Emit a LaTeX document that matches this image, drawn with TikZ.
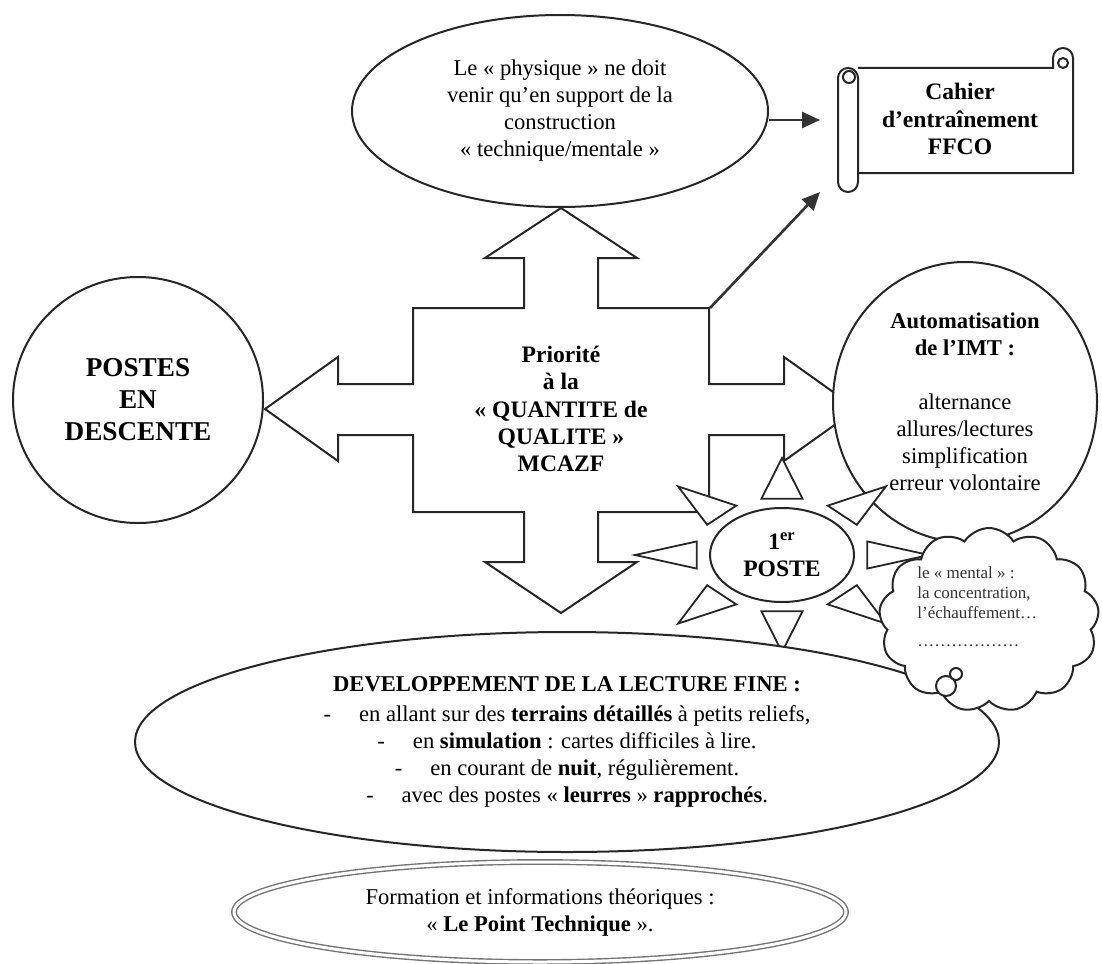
\documentclass[tikz,border=0pt]{standalone}
\usepackage{fontspec}
\setmainfont{Liberation Serif}
\usetikzlibrary{shapes.geometric,shapes.symbols,arrows.meta}

\newcommand{\txtnormal}{\fontsize{11.3}{13.5}\selectfont}
\newcommand{\txtgras}{\fontsize{11.8}{13.6}\selectfont\bfseries}
\newcommand{\txtgrand}{\fontsize{13.6}{16}\selectfont\bfseries}
\newcommand{\txtpetit}{\fontsize{8.5}{10}\selectfont}

\begin{document}
\begin{tikzpicture}[x=0.5pt, y=-0.5pt]
  % Styles
  \tikzstyle{forme}=[draw=black!85, line width=1pt, fill=white]
  \tikzstyle{bulle}=[forme, ellipse, inner sep=0pt, align=center, font=\txtnormal]
  \tikzstyle{rayon}=[forme, line width=0.9pt, line join=miter]
  \tikzstyle{fleche}=[-{Triangle[length=9pt, width=8pt]}, line width=1.3pt, black!80]

  \useasboundingbox (0,0) rectangle (1102,963);

  % Top ellipse
  \node[bulle, minimum width=208pt, minimum height=96pt] (physique) at (560,111)
    {Le « physique » ne doit\\venir qu’en support de la\\construction\\« technique/mentale »};

  % Scroll
  \draw[forme, fill=none] (858,68) -- (1053,68) -- (1053,58) arc[start angle=180, end angle=360, radius=10] -- (1073,173) -- (858,173);
  \draw[forme] (1063,63) circle[radius=5];
  \draw[forme, rounded corners=5pt] (838,68) rectangle (858,192);
  \draw[forme] (849,77) circle[radius=6];
  \node[font=\txtgras, align=center] (cahier) at (960,119) {Cahier\\d’entraînement\\FFCO};

  % Cross arrow
  \draw[forme, line join=miter] (413,308) -- (524,308) -- (524,258) -- (485,258) -- (561,208)
    -- (637,258) -- (598,258) -- (598,308) -- (709,308) -- (709,384) -- (784,384) -- (784,357)
    -- (857,409) -- (784,461) -- (784,435) -- (709,435) -- (709,512) -- (598,512) -- (598,562)
    -- (637,562) -- (561,613) -- (485,562) -- (524,562) -- (524,512) -- (413,512) -- (413,435)
    -- (338,435) -- (338,461) -- (265,409) -- (338,357) -- (338,384) -- (413,384) -- cycle;
  \node[font=\txtgras, align=center] (priorite) at (561,409)
    {Priorité\\à la\\« QUANTITE de\\QUALITE »\\MCAZF};

  % Arrows to the scroll
  \coordinate (versCahier) at (820,120);
  \coordinate (versCahierBas) at (820,192);
  \coordinate (coinCroix) at (710,308);
  \draw[fleche] (physique.east |- versCahier) -- (versCahier);
  \draw[fleche] (coinCroix) -- (versCahierBas);

  % Left circle
  \node[bulle, font=\txtgrand, minimum width=125pt, minimum height=123pt] (descente) at (138,400)
    {POSTES\\EN\\DESCENTE};

  % Right circle
  \node[bulle, minimum width=132pt, minimum height=140pt] (imt) at (965,402)
    {\textbf{Automatisation}\\\textbf{de l’IMT :}\\[13.5pt]alternance\\allures/lectures\\simplification\\erreur volontaire};

  % Sun
  \begin{scope}[shift={(782,555)}, xscale=147, yscale=97]
    \foreach \a in {0,45,...,315}
      \draw[rayon] ({cos(\a)},{sin(\a)}) -- ({0.58*cos(\a)-0.14*sin(\a)},{0.58*sin(\a)+0.14*cos(\a)})
        -- ({0.58*cos(\a)+0.14*sin(\a)},{0.58*sin(\a)-0.14*cos(\a)}) -- cycle;
  \end{scope}
  \node[bulle, font=\txtgras, minimum width=72pt, minimum height=47pt] (poste) at (782,555)
    {1\textsuperscript{er}\\POSTE};

  % Bottom ellipse
  \node[bulle, minimum width=432pt, minimum height=110pt] (lecture) at (567,742)
    {\textbf{DEVELOPPEMENT DE LA LECTURE FINE :}\\[1.5pt]
     -\hspace{14pt}en allant sur des \textbf{terrains détaillés} à petits reliefs,\\
     -\hspace{14pt}en \textbf{simulation} : cartes difficiles à lire.\\
     -\hspace{14pt}en courant de \textbf{nuit}, régulièrement.\\
     -\hspace{14pt}avec des postes « \textbf{leurres} » \textbf{rapprochés}.};

  % Cloud
  \node[cloud, cloud puffs=13, cloud puff arc=115, forme, minimum width=110pt, minimum height=92pt, aspect=1.2] (mental) at (989,620) {};
  \node[font=\txtpetit, align=left, anchor=west, inner sep=0pt, black!80] (mentaltxt) at (917,607)
    {le « mental » :\\la concentration,\\l’échauffement…\\[4pt]………………};
  \node[forme, circle, minimum size=10pt, inner sep=0pt] (bulleA) at (946,686) {};
  \node[forme, circle, minimum size=6pt, inner sep=0pt] (bulleB) at (956,674) {};

  % Theory ellipse
  \node[ellipse, draw=black!55, double=white, double distance=1.5pt, line width=0.7pt, inner sep=0pt,
    align=center, font=\txtnormal, minimum width=306pt, minimum height=50pt] (formation) at (540,912)
    {Formation et informations théoriques :\\« \textbf{Le Point Technique} ».};
\end{tikzpicture}
\end{document}
